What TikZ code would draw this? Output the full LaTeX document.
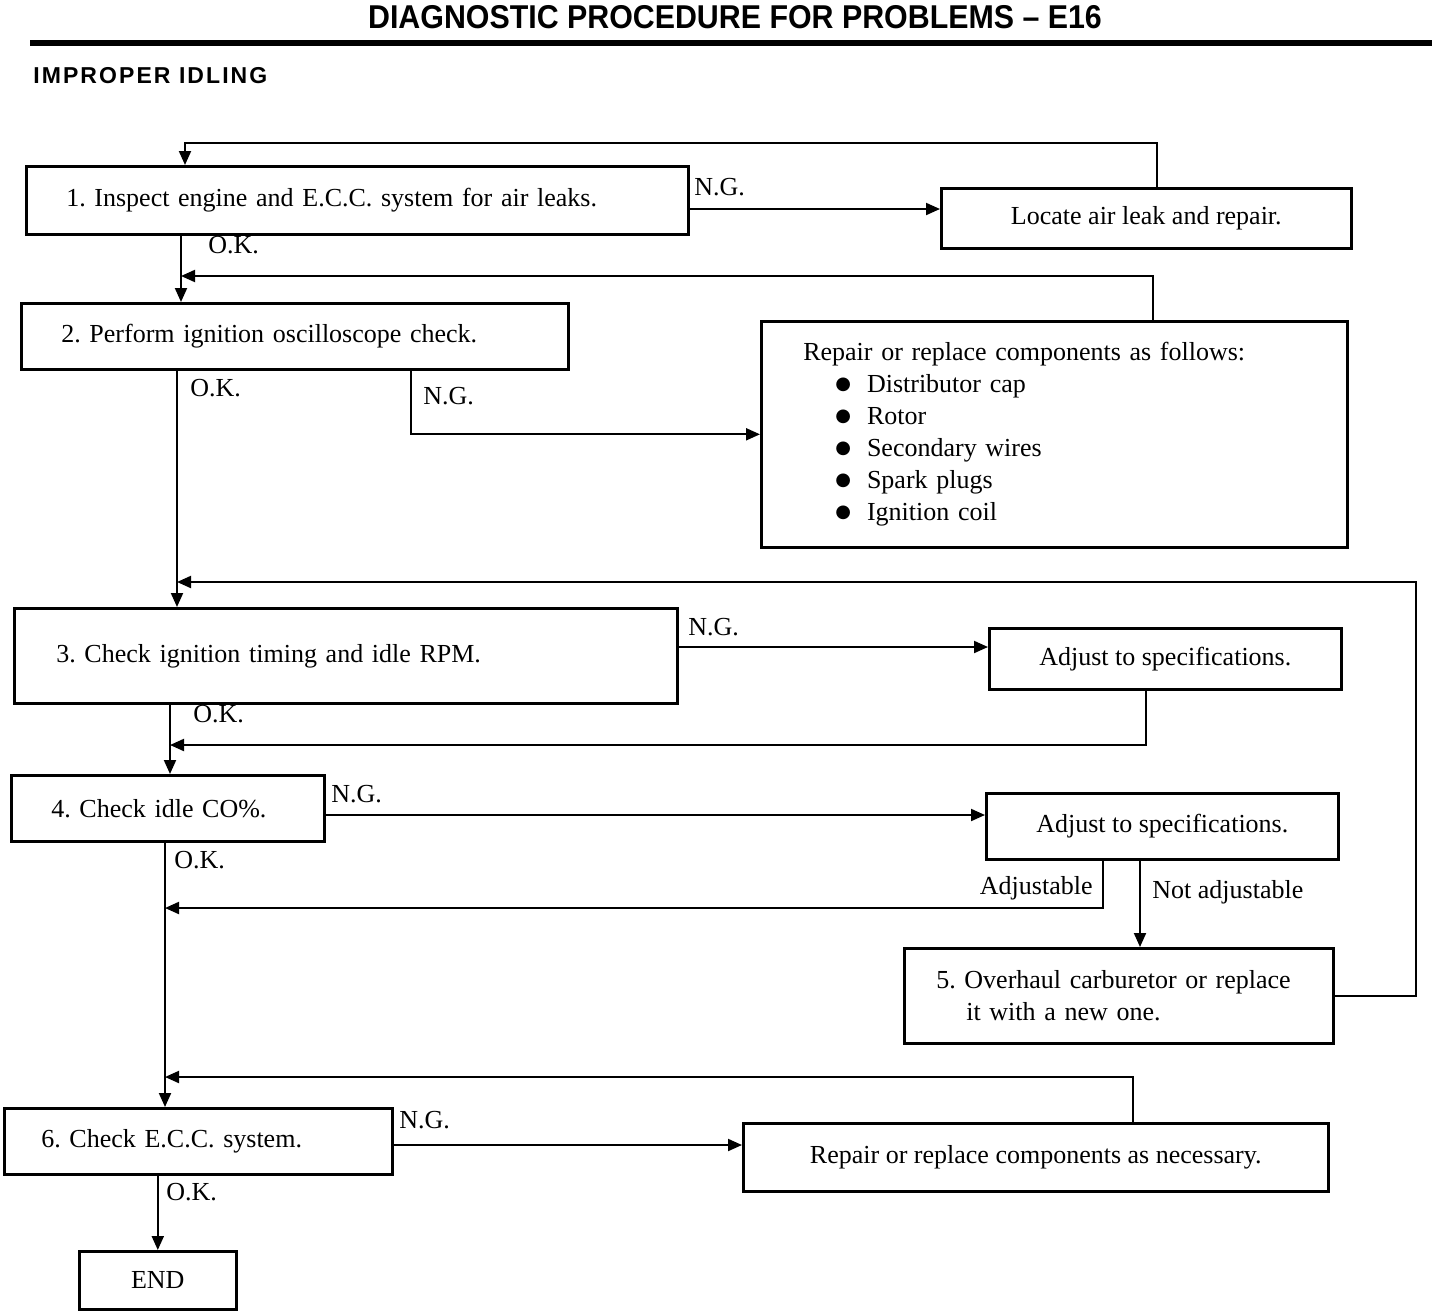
\documentclass[tikz,border=0pt]{standalone}
\usepackage{fontspec}
\setmainfont{Liberation Serif}
\newfontfamily\titlefont{Liberation Sans}[FakeStretch=0.92]
\newfontfamily\subfont{Liberation Sans}[LetterSpace=9]
\newfontfamily\symfont{DejaVu Sans}
\usetikzlibrary{arrows.meta,calc}
\newdimen\px \px=0.5pt
\newcommand\itembul{\hspace*{16pt}\raisebox{1.5pt}{\symfont\fontsize{9}{16}\selectfont ●}\hspace{8pt}}
\begin{document}
\begin{tikzpicture}[x=0.5pt,y=-0.5pt,
  every node/.style={font=\fontsize{13}{16}\selectfont},
  box/.style={draw,line width=1.3pt,inner ysep=0pt,anchor=north west},
  lbox/.style={box,align=left},
  cbox/.style={box,align=center},
  arr/.style={line width=1pt,-{Triangle[length=7pt,width=6pt]}},
  lbl/.style={anchor=west,inner sep=0pt}]
\useasboundingbox[fill=white] (0,0) rectangle (1456,1312);
% titles
\node[font=\titlefont\bfseries\fontsize{16.5}{18}\selectfont] (title) at (735,17) {DIAGNOSTIC PROCEDURE FOR PROBLEMS – E16};
\draw[line width=2.8pt] (30,43) -- (1432,43);
\node[lbl,font=\subfont\bfseries\fontsize{11.5}{13}\selectfont] (sub) at (33,76) {IMPROPER IDLING};
% boxes
\node[lbox,minimum width=662\px,minimum height=68\px,text width=582\px,inner xsep=40\px] (b1) at (25,165) {1.\ Inspect engine and E.C.C. system for air leaks.};
\node[cbox,minimum width=410\px,minimum height=60\px] (L1) at (940,187) {Locate air leak and repair.};
\node[lbox,minimum width=547\px,minimum height=66\px,text width=467\px,inner xsep=40\px] (b2) at (20,302) {2.\ Perform ignition oscilloscope check.};
\node[lbox,minimum width=586\px,minimum height=226\px,text width=502\px,inner xsep=42\px] (R2) at (760,320) {Repair or replace components as follows:\\
\itembul Distributor cap\\
\itembul Rotor\\
\itembul Secondary wires\\
\itembul Spark plugs\\
\itembul Ignition coil};
\node[lbox,minimum width=663\px,minimum height=95\px,text width=579\px,inner xsep=42\px] (b3) at (13,607) {3.\ Check ignition timing and idle RPM.};
\node[cbox,minimum width=352\px,minimum height=61\px] (A3) at (988,627) {Adjust to specifications.};
\node[lbox,minimum width=313\px,minimum height=66\px,text width=233\px,inner xsep=40\px] (b4) at (10,774) {4.\ Check idle CO\%.};
\node[cbox,minimum width=352\px,minimum height=66\px] (A4) at (985,792) {Adjust to specifications.};
\node[lbox,minimum width=429\px,minimum height=95\px,text width=365\px,inner xsep=32\px] (b5) at (903,947) {5.\ Overhaul carburetor or replace\\\hspace*{15pt}it with a new one.};
\node[lbox,minimum width=388\px,minimum height=66\px,text width=314\px,inner xsep=37\px] (b6) at (3,1107) {6.\ Check E.C.C. system.};
\node[cbox,minimum width=585\px,minimum height=68\px] (R6) at (742,1122) {Repair or replace components as necessary.};
\node[cbox,minimum width=157\px,minimum height=58\px] (END) at (78,1250) {END};
% junction points on the main line
\coordinate (j1) at (181,276);
\coordinate (j2) at (177,582);
\coordinate (j3) at (170,745);
\coordinate (j4) at (165,908);
\coordinate (j5) at (165,1077);
% top loop
\draw[arr] ($(L1.north west)+(217,0)$) |- ($(b1.north west)+(160,-22)$) -- ($(b1.north west)+(160,0)$);
% step 1
\coordinate (p1) at ($(b1.north east)+(0,44)$);
\draw[arr] (p1) -- (p1 -| L1.west);
\node[lbl] (ng1) at (694,187) {N.G.};
\draw[arr] ($(b1.south west)+(156,0)$) -- ($(b2.north west)+(161,0)$);
\node[lbl] (ok1) at (208,245) {O.K.};
\draw[arr] ($(R2.north west)+(393,0)$) |- (j1);
% step 2
\draw[arr] ($(b2.south west)+(391,0)$) |- (R2.west);
\node[lbl] (ng2) at (423,396) {N.G.};
\draw[arr] ($(b2.south west)+(157,0)$) -- ($(b3.north west)+(164,0)$);
\node[lbl] (ok2) at (190,388) {O.K.};
% step 3
\coordinate (p3) at ($(b3.north east)+(0,40)$);
\draw[arr] (p3) -- (p3 -| A3.west);
\node[lbl] (ng3) at (688,627) {N.G.};
\draw[arr] ($(A3.south west)+(158,0)$) |- (j3);
\draw[arr] ($(b3.south west)+(157,0)$) -- ($(b4.north west)+(160,0)$);
\node[lbl] (ok3) at (193,714) {O.K.};
% step 4
\coordinate (p4) at ($(b4.north east)+(0,41)$);
\draw[arr] (p4) -- (p4 -| A4.west);
\node[lbl] (ng4) at (331,794) {N.G.};
\draw[arr] ($(A4.south west)+(118,0)$) |- (j4);
\node[anchor=east,inner sep=0pt] (adj) at (1093,888) {Adjustable};
\coordinate (n1) at ($(A4.south west)+(155,0)$);
\draw[arr] (n1) -- (n1 |- b5.north);
\node[lbl] (nadj) at (1152,892) {Not adjustable};
\draw[arr] ($(b4.south west)+(155,0)$) -- ($(b6.north west)+(162,0)$);
\node[lbl] (ok4) at (174,860) {O.K.};
% step 5 return
\draw[arr] (b5.east) -- ($(b5.east)+(81,0)$) |- (j2);
% step 6
\draw[arr] ($(R6.north west)+(391,0)$) |- (j5);
\coordinate (p6) at ($(b6.north east)+(0,38)$);
\draw[arr] (p6) -- (p6 -| R6.west);
\node[lbl] (ng6) at (399,1120) {N.G.};
\draw[arr] (END.north |- b6.south) -- (END.north);
\node[lbl] (ok6) at (166,1192) {O.K.};
\end{tikzpicture}
\end{document}
